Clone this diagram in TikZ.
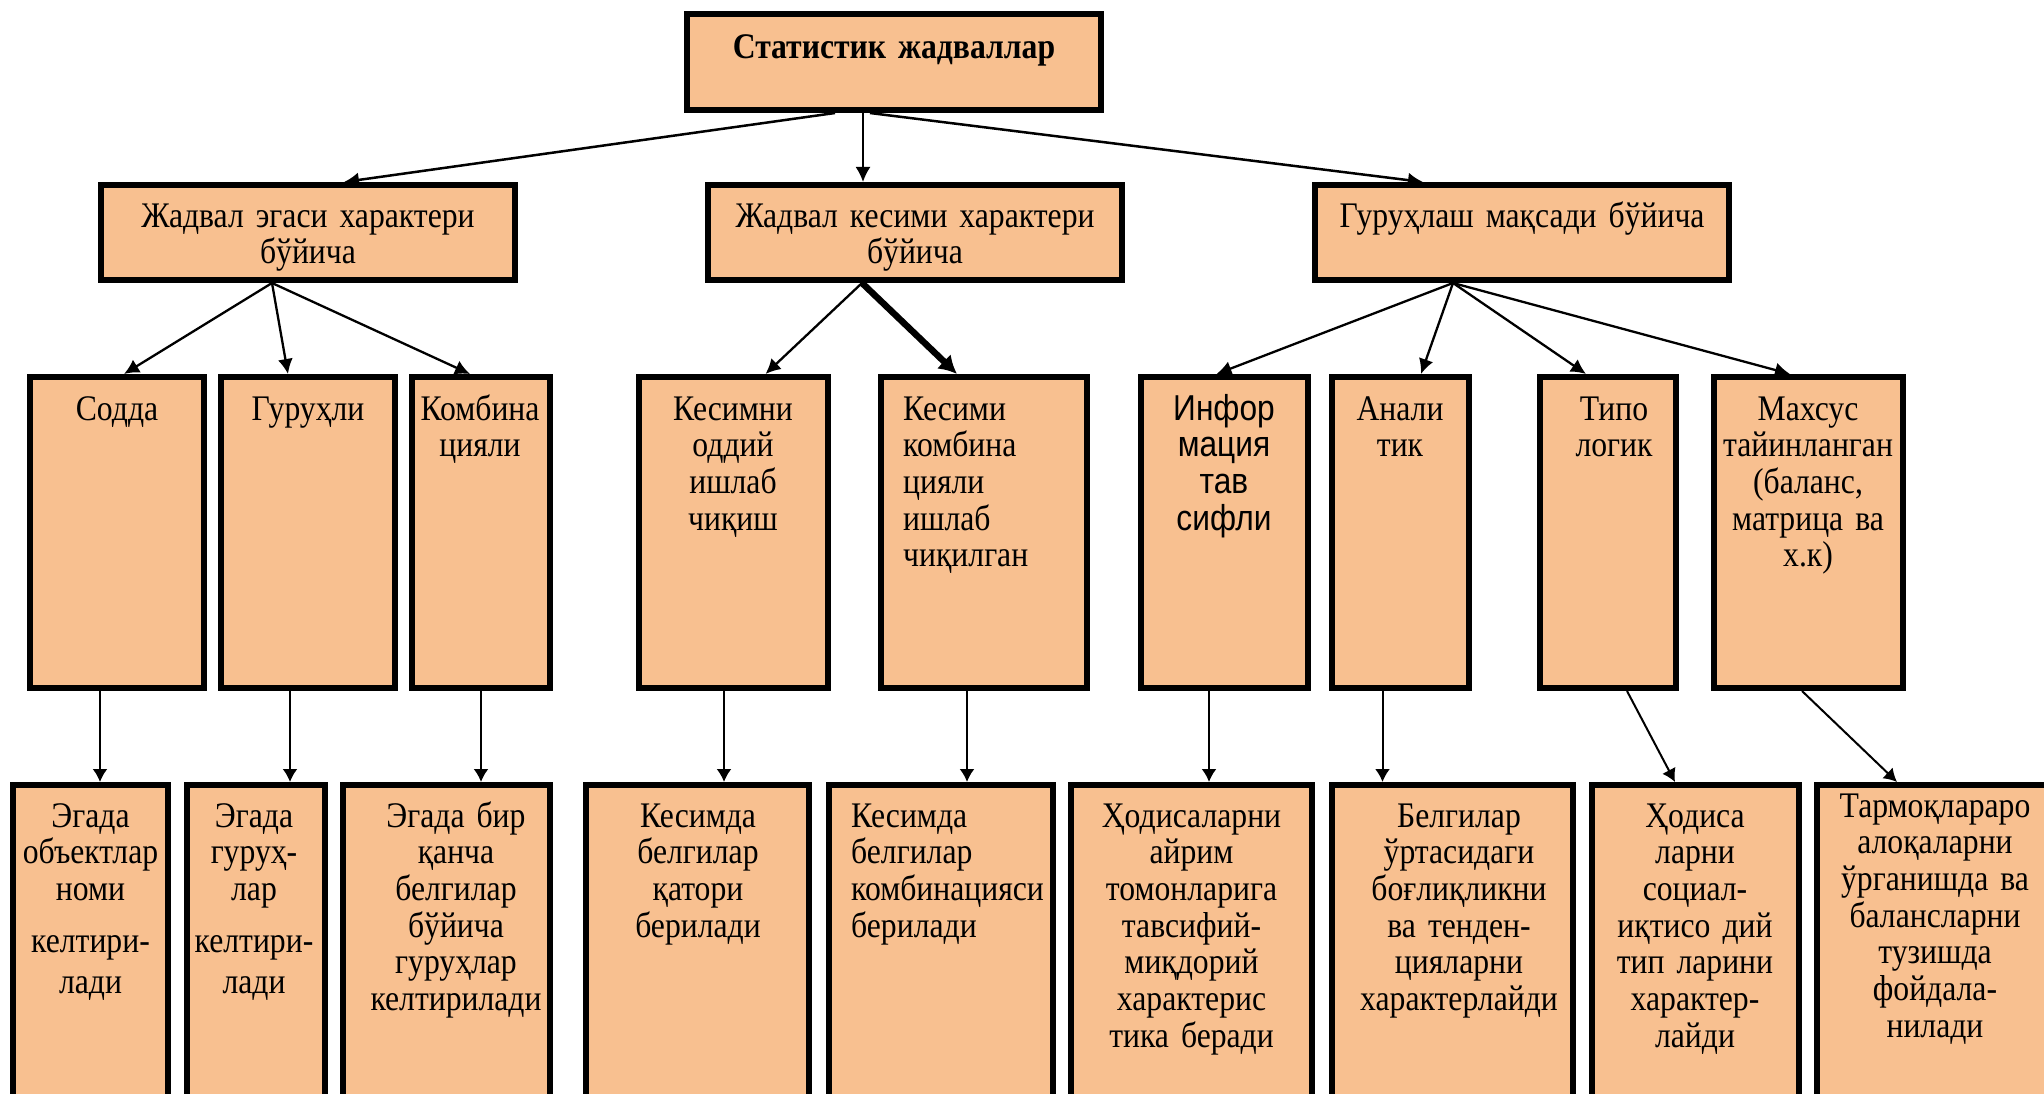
\documentclass[tikz,border=0pt]{standalone}
\usepackage{fontspec}
\setmainfont{Liberation Serif}[FakeStretch=0.88]
\newfontfamily\infofont{Liberation Sans}[FakeStretch=0.88]
\usetikzlibrary{arrows.meta}
\definecolor{peach}{RGB}{248,192,144}

\begin{document}
\begin{tikzpicture}[x=1pt, y=-1pt,
    box/.style={draw, fill=peach, line width=6pt, inner sep=0pt, outer sep=3pt},
    txt/.style={anchor=base, text width=260pt, align=center, inner sep=0pt, font=\fontsize{36}{36.7}\selectfont},
    ltxt/.style={txt, anchor=base west, align=left},
    link/.style={-{Latex[length=15pt, width=15pt]}, line width=2.3pt},
    thin/.style={-{Latex[length=13pt, width=15pt]}, line width=2pt}]
    \useasboundingbox (0,0) rectangle (2044,1094);
    \clip (0,0) rectangle (2044,1094);

    \node[box, minimum width=414pt, minimum height=96pt] (tbl) at (894,62) {};
    \node[txt, text width=340pt, font=\fontsize{36}{36.7}\selectfont\bfseries] (tbl-t) at (894,59) {Статистик жадваллар};

    \node[box, minimum width=414pt, minimum height=95pt] (own) at (308,232.5) {};
    \node[box, minimum width=414pt, minimum height=95pt] (sect) at (915,232.5) {};
    \node[box, minimum width=414pt, minimum height=95pt] (grp) at (1522,232.5) {};
    \node[txt, text width=400pt] (own-t) at (308,227) {Жадвал эгаси характери\\бўйича};
    \node[txt, text width=400pt] (sect-t) at (915,227) {Жадвал кесими характери\\бўйича};
    \node[txt, text width=400pt] (grp-t) at (1522,227) {Гуруҳлаш мақсади бўйича};

    \node[box, minimum width=174pt, minimum height=311pt] (simple) at (117,532.5) {};
    \node[box, minimum width=174pt, minimum height=311pt] (group) at (308,532.5) {};
    \node[box, minimum width=138pt, minimum height=311pt] (comb) at (481,532.5) {};
    \node[box, minimum width=189pt, minimum height=311pt] (ssimp) at (733.5,532.5) {};
    \node[box, minimum width=206pt, minimum height=311pt] (scomb) at (984,532.5) {};
    \node[box, minimum width=167pt, minimum height=311pt] (info) at (1224.5,532.5) {};
    \node[box, minimum width=137pt, minimum height=311pt] (anal) at (1400.5,532.5) {};
    \node[box, minimum width=136pt, minimum height=311pt] (typo) at (1608,532.5) {};
    \node[box, minimum width=189pt, minimum height=311pt] (spec) at (1808.5,532.5) {};
    \node[txt] (simple-t) at (117,420) {Содда};
    \node[txt] (group-t) at (308,420) {Гуруҳли};
    \node[txt] (comb-t) at (480,420) {Комбина\\цияли};
    \node[txt] (ssimp-t) at (733,420) {Кесимни\\оддий\\ишлаб\\чиқиш};
    \node[ltxt] (scomb-t) at (903,420) {Кесими\\комбина\\цияли\\ишлаб\\чиқилган};
    \node[txt, font=\fontsize{36}{36.7}\infofont] (info-t) at (1224,420) {Инфор\\мация\\тав\\сифли};
    \node[txt] (anal-t) at (1400,420) {Анали\\тик};
    \node[txt] (typo-t) at (1614,420) {Типо\\логик};
    \node[txt] (spec-t) at (1808,420) {Махсус\\тайинланган\\(баланс,\\матрица ва\\х.к)};

    \node[box, minimum width=155pt, minimum height=322pt] (d1) at (90.5,946) {};
    \node[box, minimum width=138pt, minimum height=322pt] (d2) at (256,946) {};
    \node[box, minimum width=207pt, minimum height=322pt] (d3) at (446.5,946) {};
    \node[box, minimum width=223pt, minimum height=322pt] (d4) at (697.5,946) {};
    \node[box, minimum width=224pt, minimum height=322pt] (d5) at (941,946) {};
    \node[box, minimum width=241pt, minimum height=322pt] (d6) at (1191.5,946) {};
    \node[box, minimum width=241pt, minimum height=322pt] (d7) at (1452.5,946) {};
    \node[box, minimum width=207pt, minimum height=322pt] (d8) at (1695.5,946) {};
    \node[box, minimum width=236pt, minimum height=322pt] (d9) at (1935,946) {};
    \node[txt] (d1-t) at (90.5,827) {Эгада\\объектлар\\номи\\[15pt]келтири-\\[5pt]лади};
    \node[txt] (d2-t) at (254,827) {Эгада\\гуруҳ-\\лар\\[15pt]келтири-\\[5pt]лади};
    \node[txt] (d3-t) at (456,827) {Эгада бир\\қанча\\белгилар\\бўйича\\гуруҳлар\\келтирилади};
    \node[txt] (d4-t) at (698,827) {Кесимда\\белгилар\\қатори\\берилади};
    \node[ltxt] (d5-t) at (851,827) {Кесимда\\белгилар\\комбинацияси\\берилади};
    \node[txt] (d6-t) at (1191.5,827) {Ҳодисаларни\\айрим\\томонларига\\тавсифий-\\миқдорий\\характерис\\тика беради};
    \node[txt] (d7-t) at (1459,827) {Белгилар\hspace*{48pt}\\ўртасидаги\\боғлиқликни\\ва тенден-\\цияларни\\характерлайди};
    \node[txt] (d8-t) at (1695,827) {Ҳодиса\\ларни\\социал-\\иқтисо дий\\тип ларини\\характер-\\лайди};
    \node[txt] (d9-t) at (1935,817) {Тармоқлараро\\алоқаларни\\ўрганишда ва\\балансларни\\тузишда\\фойдала-\\нилади};

    \draw[link, line width=2.5pt] ([xshift=-59pt]tbl.south) -- ([xshift=36pt]own.north);
    \draw[link, line width=2pt] ([xshift=-31pt]tbl.south) -- ([xshift=-52pt]sect.north);
    \draw[link, line width=2.5pt] ([xshift=-24pt]tbl.south) -- ([xshift=-99pt]grp.north);

    \draw[link] ([xshift=-36pt]own.south) -- ([xshift=7pt]simple.north);
    \draw[link] ([xshift=-36pt]own.south) -- ([xshift=-20pt]group.north);
    \draw[link] ([xshift=-36pt]own.south) -- ([xshift=-11pt]comb.north);
    \draw[link] ([xshift=-53pt]sect.south) -- ([xshift=32pt]ssimp.north);
    \draw[link, line width=6.5pt, -{Latex[length=18pt, width=20pt]}] ([xshift=-53pt]sect.south) -- ([xshift=-27pt]scomb.north);
    \draw[link] ([xshift=-69pt]grp.south) -- ([xshift=-8pt]info.north);
    \draw[link] ([xshift=-69pt]grp.south) -- ([xshift=20.5pt]anal.north);
    \draw[link] ([xshift=-69pt]grp.south) -- ([xshift=-22pt]typo.north);
    \draw[link] ([xshift=-69pt]grp.south) -- ([xshift=-18.5pt]spec.north);

    \draw[thin] ([xshift=-17pt]simple.south) -- ([xshift=9.5pt]d1.north);
    \draw[thin] ([xshift=-18pt]group.south) -- ([xshift=34pt]d2.north);
    \draw[thin] (comb.south) -- ([xshift=34.5pt]d3.north);
    \draw[thin] ([xshift=-9.5pt]ssimp.south) -- ([xshift=26.5pt]d4.north);
    \draw[thin] ([xshift=-17pt]scomb.south) -- ([xshift=26pt]d5.north);
    \draw[thin] ([xshift=-15.5pt]info.south) -- ([xshift=17.5pt]d6.north);
    \draw[thin] ([xshift=-18pt]anal.south) -- ([xshift=-70pt]d7.north);
    \draw[thin] ([xshift=19pt]typo.south) -- ([xshift=-20.5pt]d8.north);
    \draw[thin] ([xshift=-6.5pt]spec.south) -- ([xshift=-38pt]d9.north);
\end{tikzpicture}
\end{document}
